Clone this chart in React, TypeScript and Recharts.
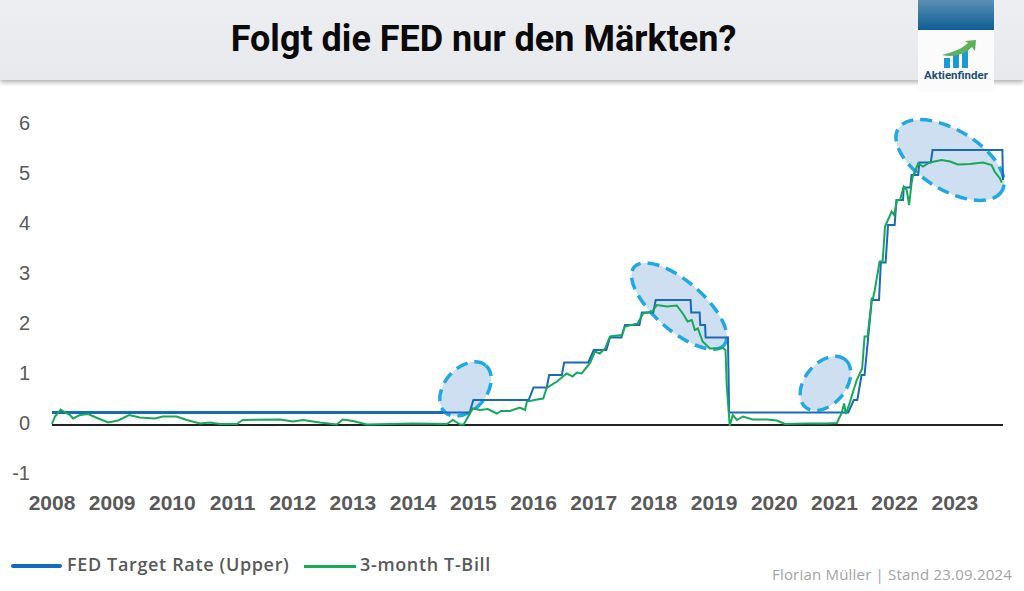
import { Line, LineChart, ReferenceDot, ReferenceLine, XAxis, YAxis } from "recharts";

// x values
const yearTicks = [2008, 2009, 2010, 2011, 2012, 2013, 2014, 2015, 2016, 2017, 2018, 2019, 2020, 2021, 2022, 2023];
const rateTicks = [-1, 0, 1, 2, 3, 4, 5, 6];

const fedYears = [
  2008.0, 2014.94, 2015.0, 2015.92, 2016.0, 2016.22, 2016.26, 2016.47, 2016.51, 2016.91,
  2017.0, 2017.21, 2017.27, 2017.46, 2017.52, 2017.76, 2017.8, 2017.99, 2018.03, 2018.61,
  2018.62, 2018.76, 2018.77, 2018.85, 2018.86, 2019.23, 2019.25, 2021.23, 2021.32, 2021.38,
  2021.45, 2021.5, 2021.56, 2021.62, 2021.74, 2021.77, 2021.85, 2021.89, 2022.0, 2022.03,
  2022.14, 2022.15, 2022.26, 2022.28, 2022.39, 2022.41, 2022.6, 2022.63, 2023.79, 2023.8,
];
const fedRates = [
  0.25, 0.25, 0.5, 0.5, 0.75, 0.75, 1.0, 1.0, 1.25, 1.25,
  1.5, 1.5, 1.75, 1.75, 2.0, 2.0, 2.25, 2.25, 2.5, 2.5,
  2.25, 2.25, 2.0, 2.0, 1.75, 1.75, 0.25, 0.25, 0.5, 0.5,
  1.0, 1.0, 1.75, 2.5, 2.5, 3.25, 3.25, 4.0, 4.0, 4.5,
  4.5, 4.75, 4.75, 5.0, 5.0, 5.25, 5.25, 5.5, 5.5, 4.9,
];

const billYears = [
  2008.0, 2008.05, 2008.145, 2008.22, 2008.3, 2008.35, 2008.465, 2008.6, 2008.77, 2008.935,
  2009.1, 2009.28, 2009.46, 2009.71, 2009.84, 2010.07, 2010.24, 2010.46, 2010.62, 2010.79,
  2011.07, 2011.17, 2011.79, 2012.0, 2012.17, 2012.45, 2012.73, 2012.83, 2013.0, 2013.23,
  2014.0, 2014.56, 2014.66, 2014.78, 2014.84, 2014.99, 2015.11, 2015.24, 2015.39, 2015.46,
  2015.61, 2015.77, 2015.86, 2015.89, 2016.06, 2016.16, 2016.22, 2016.39, 2016.55, 2016.65,
  2016.72, 2016.8, 2016.94, 2017.02, 2017.1, 2017.19, 2017.27, 2017.47, 2017.52, 2017.73,
  2017.82, 2017.97, 2018.05, 2018.22, 2018.38, 2018.48, 2018.56, 2018.63, 2018.68, 2018.73,
  2018.81, 2018.93, 2019.06, 2019.15, 2019.19, 2019.21, 2019.26, 2019.31, 2019.38, 2019.48,
  2019.64, 2019.88, 2020.04, 2020.18, 2020.54, 2020.87, 2021.04, 2021.12, 2021.16, 2021.19,
  2021.26, 2021.37, 2021.46, 2021.5, 2021.55, 2021.62, 2021.64, 2021.67, 2021.75, 2021.8,
  2021.84, 2021.95, 2021.99, 2022.04, 2022.09, 2022.15, 2022.2, 2022.24, 2022.28, 2022.3,
  2022.39, 2022.47, 2022.58, 2022.78, 2022.92, 2023.05, 2023.25, 2023.47, 2023.61, 2023.66,
  2023.75, 2023.78,
];
const billRates = [
  0.02, 0.17, 0.31, 0.25, 0.2, 0.13, 0.2, 0.22, 0.13, 0.05,
  0.09, 0.2, 0.15, 0.13, 0.17, 0.17, 0.1, 0.03, 0.05, 0.02,
  0.02, 0.1, 0.11, 0.07, 0.1, 0.05, 0.01, 0.11, 0.08, 0.01,
  0.03, 0.02, 0.1, 0.01, 0.01, 0.33, 0.3, 0.32, 0.23, 0.28,
  0.28, 0.35, 0.3, 0.47, 0.51, 0.53, 0.74, 0.87, 1.03, 0.97,
  1.05, 1.03, 1.24, 1.47, 1.43, 1.53, 1.77, 1.8, 1.97, 2.03,
  2.23, 2.27, 2.4, 2.37, 2.39, 2.23, 2.07, 2.1, 1.9, 1.93,
  1.67, 1.53, 1.53, 1.54, 1.5, 0.8, -0.02, 0.2, 0.1, 0.17,
  0.11, 0.11, 0.09, 0.02, 0.03, 0.03, 0.04, 0.24, 0.43, 0.22,
  0.47, 0.9, 1.13, 1.77, 1.77, 2.53, 2.53, 2.7, 3.27, 3.27,
  3.97, 4.27, 4.2, 4.5, 4.5, 4.77, 4.7, 4.4, 4.83, 4.97,
  5.23, 5.17, 5.25, 5.3, 5.27, 5.21, 5.22, 5.25, 5.2, 5.07,
  4.93, 4.85,
];

const ellipseYears = [2014.87, 2018.42, 2020.85, 2022.92];
const ellipseRates = [0.72, 2.38, 0.83, 5.3];
const ellipseShapes = [
  { rx: 31, ry: 21, rotate: -49 },
  { rx: 59.5, ry: 24.5, rotate: 41 },
  { rx: 31, ry: 20.5, rotate: -50 },
  { rx: 60.5, ry: 30, rotate: 31 },
];

const fedData = fedYears.map((x, i) => ({ x, y: fedRates[i] }));
// the flat stretch up to 2014.5 is drawn heavier in the original
const fedFlatData = [
  { x: 2008, y: 0.25 },
  { x: 2014.5, y: 0.25 },
];
const billData = billYears.map((x, i) => ({ x, y: billRates[i] }));

const GREY = "#595959";
const BLUE = "#1a6ab5";
const GREEN = "#17a85a";

const chartMargin = { top: 125, right: 21, bottom: 76, left: 0 };

function EllipseMark({ cx, cy, rx, ry, rotate }: any) {
  return (
    <ellipse
      cx={cx}
      cy={cy}
      rx={rx}
      ry={ry}
      transform={`rotate(${rotate} ${cx} ${cy})`}
      fill="#cddff0"
      stroke="#1fa8e4"
      strokeWidth={3.5}
      strokeDasharray="12 7"
    />
  );
}

function Header() {
  return (
    <>
      <div
        style={{
          position: "absolute",
          left: 0,
          top: 0,
          width: 1024,
          height: 80,
          background: "linear-gradient(#eceef1, #e7e9ec)",
          boxShadow: "0 2px 5px rgba(0,0,0,0.35)",
        }}
      />
      <div
        style={{
          position: "absolute",
          left: 0,
          top: 14,
          width: 967,
          textAlign: "center",
          fontFamily: "Roboto, sans-serif",
          fontWeight: 700,
          fontSize: 36,
          lineHeight: "50px",
          color: "#0a0a0a",
        }}
      >
        Folgt die FED nur den Märkten?
      </div>
      <div
        style={{
          position: "absolute",
          left: 918,
          top: 0,
          width: 76,
          height: 30,
          background: "linear-gradient(#5b8fb3, #0e5e95)",
        }}
      />
      <div style={{ position: "absolute", left: 918, top: 30, width: 76, height: 62, background: "#fbfbfc" }} />
      <svg style={{ position: "absolute", left: 918, top: 30 }} width={76} height={62}>
        <rect x={26} y={28} width={6} height={10} fill="#1b9ad6" />
        <rect x={35} y={24} width={6} height={14} fill="#1b9ad6" />
        <rect x={44} y={19} width={6} height={19} fill="#1b9ad6" />
        <path d="M24 25 C36 22 45 18 50 13 L47 11 L58 10 L57 21 L54 17 C47 24 36 28 24 25 Z" fill="#5cb25a" />
      </svg>
      <div
        style={{
          position: "absolute",
          left: 918,
          top: 68,
          width: 76,
          textAlign: "center",
          fontFamily: "Roboto, sans-serif",
          fontWeight: 700,
          fontSize: 11.5,
          color: "#1d4e79",
        }}
      >
        Aktienfinder
      </div>
    </>
  );
}

function LegendRow() {
  const textStyle = {
    position: "absolute" as const,
    top: 552,
    fontFamily: "'Open Sans', sans-serif",
    fontWeight: 600,
    fontSize: 18,
    letterSpacing: 0.65,
    lineHeight: "24px",
    color: GREY,
    whiteSpace: "nowrap" as const,
  };
  return (
    <>
      <div style={{ position: "absolute", left: 11, top: 564, width: 51, height: 4, borderRadius: 2, background: "#0f6cbd" }} />
      <div style={{ ...textStyle, left: 67 }}>FED Target Rate (Upper)</div>
      <div style={{ position: "absolute", left: 304, top: 565, width: 52, height: 2.5, background: GREEN }} />
      <div style={{ ...textStyle, left: 360 }}>3-month T-Bill</div>
      <div
        style={{
          position: "absolute",
          right: 12,
          top: 564,
          fontFamily: "'Open Sans', sans-serif",
          fontSize: 15,
          letterSpacing: 0.2,
          lineHeight: "20px",
          color: "#a3a3a3",
        }}
      >
        Florian Müller | Stand 23.09.2024
      </div>
    </>
  );
}

export default function App() {
  return (
    <div style={{ position: "absolute", left: 0, top: 0, width: 1024, height: 591, background: "#fff", overflow: "hidden" }}>
      {/* ellipses sit in their own chart underneath so the lines stay on top of them */}
      <div style={{ position: "absolute", left: 0, top: 0 }}>
        <LineChart width={1024} height={591} margin={chartMargin}>
          <XAxis dataKey="x" type="number" domain={[2008, 2023.8]} height={40} axisLine={false} tickLine={false} tick={false} />
          <YAxis dataKey="y" type="number" domain={[-1, 6]} width={52} axisLine={false} tickLine={false} tick={false} />
          <Line data={fedData} dataKey="y" stroke="none" dot={false} isAnimationActive={false} />
          {ellipseYears.map((x, i) => (
            <ReferenceDot
              key={x}
              x={x}
              y={ellipseRates[i]}
              r={1}
              shape={(props: any) => <EllipseMark cx={props.cx} cy={props.cy} {...ellipseShapes[i]} />}
            />
          ))}
        </LineChart>
      </div>
      <div style={{ position: "absolute", left: 0, top: 0 }}>
        <LineChart width={1024} height={591} margin={chartMargin}>
          <XAxis
            dataKey="x"
            type="number"
            domain={[2008, 2023.8]}
            ticks={yearTicks}
            height={40}
            interval={0}
            axisLine={false}
            tickLine={false}
            tickSize={0}
            tickMargin={20}
            tick={{ fill: GREY, fontSize: 21, fontWeight: 700, fontFamily: "'Liberation Sans', sans-serif" }}
          />
          <YAxis
            dataKey="y"
            type="number"
            domain={[-1, 6]}
            ticks={rateTicks}
            width={52}
            axisLine={false}
            tickLine={false}
            tickSize={0}
            tickMargin={22}
            tick={{ fill: GREY, fontSize: 20, dy: -2.5, fontFamily: "'Liberation Sans', sans-serif" }}
          />
          <ReferenceLine y={0} stroke="#222222" strokeWidth={2} />
          <Line data={fedFlatData} dataKey="y" stroke="#0f6cbd" strokeWidth={3} dot={false} isAnimationActive={false} />
          <Line data={fedData} dataKey="y" stroke={BLUE} strokeWidth={2} dot={false} isAnimationActive={false} />
          <Line data={billData} dataKey="y" stroke={GREEN} strokeWidth={2} dot={false} isAnimationActive={false} />
        </LineChart>
      </div>
      <Header />
      <LegendRow />
    </div>
  );
}
